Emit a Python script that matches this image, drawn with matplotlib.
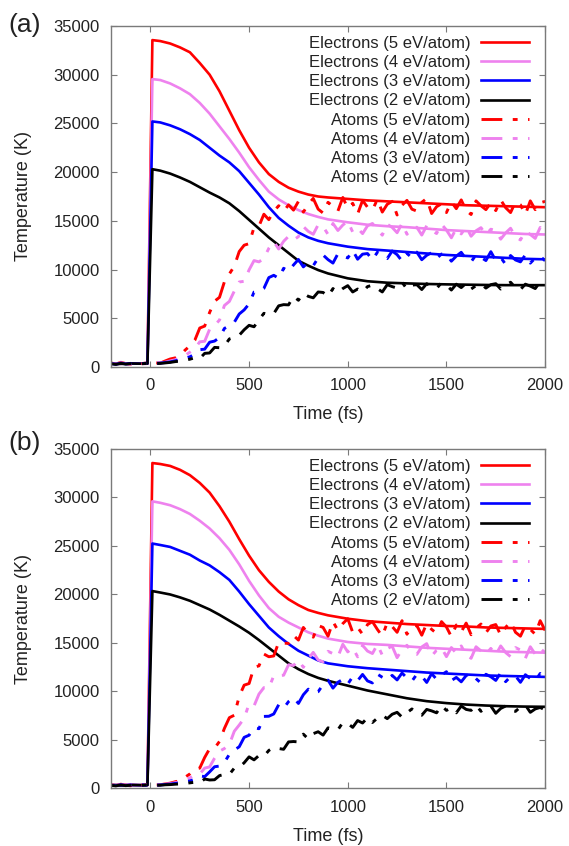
import numpy as np
import matplotlib
matplotlib.use("Agg")
import matplotlib.pyplot as plt

plt.rcParams['font.family'] = ['Liberation Sans', 'DejaVu Sans']
plt.rcParams['lines.scale_dashes'] = False

# ---------------- data ----------------
labels_e = ["Electrons (5 eV/atom)", "Electrons (4 eV/atom)",
            "Electrons (3 eV/atom)", "Electrons (2 eV/atom)"]
labels_a = ["Atoms (5 eV/atom)", "Atoms (4 eV/atom)",
            "Atoms (3 eV/atom)", "Atoms (2 eV/atom)"]
colors = ["#ff0000", "#ee82ee", "#0000ff", "#000000"]

# electron temperature sample times (fs)
t_e = [-200, -150, -100, -50, -15, 10, 50, 100, 150, 200, 250, 300, 350, 400, 450,
       500, 550, 600, 650, 700, 750, 800, 850, 900, 1000, 1100, 1200, 1300, 1400,
       1500, 1600, 1700, 1800, 1900, 2000]

# panel (a) electrons
ea_5 = [350, 330, 360, 340, 350, 33550, 33450, 33200, 32800, 32300, 31200, 30000, 28300, 26300, 24300,
        22500, 21000, 19800, 19000, 18400, 18000, 17700, 17500, 17400, 17250, 17100, 17000, 16900, 16800,
        16700, 16600, 16550, 16500, 16450, 16400]
ea_4 = [350, 330, 360, 340, 350, 29550, 29450, 29100, 28600, 28000, 27100, 26000, 24700, 23400, 22000,
        20500, 19200, 18000, 17200, 16600, 16100, 15700, 15400, 15150, 14850, 14600, 14450, 14350, 14200,
        14050, 13950, 13850, 13750, 13650, 13600]
ea_3 = [350, 330, 360, 340, 350, 25200, 25100, 24800, 24400, 23900, 23300, 22500, 21700, 21000, 20100,
        18900, 17700, 16400, 15300, 14500, 13800, 13300, 12950, 12700, 12350, 12100, 11950, 11800, 11650,
        11500, 11400, 11300, 11200, 11100, 11050]
ea_2 = [350, 330, 360, 340, 350, 20300, 20150, 19850, 19450, 19000, 18450, 17900, 17400, 16800, 16000,
        15100, 14200, 13300, 12500, 11700, 10900, 10400, 9950, 9600, 9100, 8800, 8650, 8580, 8520,
        8480, 8450, 8420, 8400, 8400, 8400]

# panel (b) electrons
eb_5 = [350, 330, 360, 340, 350, 33550, 33450, 33250, 32850, 32300, 31500, 30500, 29100, 27500, 25700,
        24000, 22500, 21300, 20300, 19500, 18900, 18400, 18100, 17850, 17500, 17250, 17100, 16950, 16850,
        16750, 16700, 16600, 16550, 16500, 16450]
eb_4 = [350, 330, 360, 340, 350, 29600, 29450, 29200, 28800, 28300, 27600, 26800, 25800, 24600, 23100,
        21400, 19900, 18600, 17700, 17100, 16600, 16100, 15750, 15450, 15100, 14900, 14800, 14650, 14500,
        14400, 14300, 14200, 14100, 14050, 14000]
eb_3 = [350, 330, 360, 340, 350, 25250, 25100, 24900, 24500, 24100, 23500, 23000, 22300, 21500, 20300,
        19000, 17800, 16600, 15700, 14900, 14200, 13700, 13200, 12900, 12600, 12400, 12250, 12100, 11950,
        11850, 11750, 11650, 11600, 11550, 11500]
eb_2 = [350, 330, 360, 340, 350, 20350, 20200, 20000, 19700, 19350, 18900, 18450, 17900, 17300, 16700,
        16050, 15300, 14500, 13700, 12900, 12300, 11800, 11400, 11100, 10600, 10100, 9700, 9300, 9000,
        8800, 8650, 8550, 8480, 8440, 8420]

# atom temperature sample times (fs): every 25 fs from -200 to 2000
t_a = np.arange(-200, 2001, 25)

aa_5 = [420, 300, 480, 350, 280, 450, 330, 400,
        330, 420, 400, 620, 820, 930, 1180, 1720, 2170, 2750,
        4000, 4200, 5600, 6750, 7150, 8750, 9550, 10350, 11850, 12500,
        12660, 14320, 14460, 15680, 15120, 15980, 16550, 15980, 16640, 16100,
        17000, 15900, 16700, 17300, 16200, 15800, 16900, 16500, 16000, 17400,
        16300, 16800, 15700, 17100, 16400, 16100, 17200, 15900, 16700, 17000,
        15600, 16600, 17100, 16200, 16000, 16900, 17300, 15750, 16450, 16750,
        15850, 16950, 16250, 17150, 16050, 15650, 17050, 16550, 16150, 16850,
        16050, 17150, 16350, 15850, 16950, 16650, 15650, 17050, 16150, 16850,
        17000]
aa_4 = [380, 310, 430, 340, 290, 410, 360, 330,
        360, 380, 440, 490, 620, 740, 970, 1180, 1520, 1880,
        2585, 2640, 3870, 4255, 4820, 6315, 6730, 7790, 8725, 8795,
        9970, 10920, 10790, 11150, 12180, 12860, 12110, 12900, 13410, 13030,
        13380, 14410, 13920, 13620, 14600, 14410, 13610, 14730, 14010, 14570,
        14970, 13850, 14250, 13690, 14490, 14730, 14090, 13530, 14650, 14330,
        13780, 14740, 13620, 14260, 14340, 13540, 14500, 14020, 13700, 14660,
        14060, 13260, 14220, 13660, 14380, 13420, 13980, 14300, 13580, 14140,
        14000, 13120, 13760, 14240, 13360, 13040, 13920, 13600, 13200, 14320,
        13500]
aa_3 = [350, 280, 400, 310, 370, 290, 340, 380,
        330, 370, 400, 460, 520, 630, 740, 890, 1050, 1320,
        1775, 1830, 2545, 2660, 3020, 3960, 4235, 4595, 5440, 5860,
        6480, 7685, 7745, 8070, 9175, 9410, 9110, 10130, 9835, 10470,
        11035, 10275, 10750, 10395, 11195, 11490, 11020, 10665, 11625, 11415,
        11190, 11970, 11060, 11580, 11645, 10995, 11775, 11385, 11125, 11905,
        11530, 10880, 11660, 11205, 11790, 11010, 11465, 11725, 11140, 11595,
        11575, 10860, 11380, 11770, 11055, 10795, 11510, 11250, 10925, 11835,
        10920, 11245, 10530, 11440, 10985, 10790, 11505, 10660, 11180, 11375,
        10900]
aa_2 = [330, 270, 370, 300, 350, 280, 320, 360,
        320, 350, 370, 420, 470, 550, 600, 700, 800, 950,
        870, 1400, 1440, 2010, 1980, 2160, 2880, 3030, 3260, 3820,
        4275, 4130, 4840, 5510, 5365, 5485, 6280, 6400, 6375, 7255,
        6850, 7550, 7250, 7100, 7700, 7650, 7250, 8050, 7650, 8050,
        8350, 7700, 8000, 7700, 8250, 8400, 8050, 7700, 8450, 8250,
        8100, 8700, 8000, 8400, 8450, 7950, 8550, 8250, 8050, 8650,
        8400, 7900, 8500, 8150, 8600, 8000, 8350, 8550, 8100, 8450,
        8550, 8000, 8400, 8700, 8150, 7950, 8500, 8300, 8050, 8750,
        8400]

ab_5 = [380, 300, 440, 330, 280, 420, 340, 380,
        300, 360, 380, 470, 550, 690, 800, 1150, 1500, 2000,
        2100, 3200, 4100, 4150, 4850, 6200, 7300, 7550, 9500, 10650,
        10820, 12500, 12640, 13860, 13580, 13660, 15080, 14980, 14960, 15770,
        15300, 16600, 15950, 15600, 16800, 16600, 15700, 17200, 16300, 17000,
        17500, 16100, 16600, 15900, 16900, 17200, 16400, 15700, 17100, 16700,
        16100, 17300, 15900, 16700, 16800, 15800, 17000, 16400, 16000, 17200,
        16650, 15650, 16850, 16150, 17050, 15850, 16550, 16950, 16050, 16750,
        16900, 15800, 16600, 17200, 16100, 15700, 16800, 16400, 15900, 17300,
        16300]
ab_4 = [360, 310, 400, 340, 420, 330, 380, 340,
        320, 360, 380, 450, 500, 600, 700, 880, 1100, 1400,
        1500, 2100, 2220, 3120, 3840, 4120, 4540, 5900, 6540, 7240,
        8720, 8510, 9730, 10395, 10345, 11625, 11635, 11675, 12755, 12680,
        13225, 12490, 13370, 14030, 13245, 13055, 14140, 13900, 13575, 14865,
        14080, 14505, 13570, 14760, 14165, 13910, 14845, 13740, 14420, 14675,
        13485, 14335, 14760, 13995, 13825, 14590, 14930, 13655, 14250, 14505,
        13590, 14525, 13930, 14695, 13760, 13420, 14610, 14185, 13845, 14440,
        13760, 14695, 14015, 13590, 14525, 14270, 13420, 14610, 13845, 14440,
        14000]
ab_3 = [340, 290, 380, 300, 360, 310, 390, 330,
        300, 340, 360, 410, 450, 520, 570, 680, 780, 950,
        1300, 1220, 1710, 2240, 2310, 2690, 3520, 3950, 4300, 5270,
        5490, 6265, 6160, 7430, 7445, 7680, 8635, 8270, 8960, 9375,
        8765, 9665, 10240, 9855, 9975, 10710, 11170, 10345, 10950, 11245,
        10760, 11525, 11120, 11755, 11090, 10880, 11790, 11465, 11205, 11660,
        11190, 11905, 11385, 11060, 11775, 11580, 10930, 11840, 11255, 11710,
        12035, 11125, 11450, 10995, 11645, 11840, 11320, 10865, 11775, 11515,
        11140, 11920, 11010, 11530, 11595, 10945, 11725, 11335, 11075, 11855,
        11400]
ab_2 = [320, 270, 360, 290, 340, 270, 310, 350,
        300, 330, 340, 380, 400, 440, 470, 530, 580, 640,
        600, 975, 875, 900, 1325, 1450, 1450, 2100, 2175, 2650,
        3260, 2950, 3400, 3320, 3920, 4240, 4120, 4040, 4800, 4840,
        4800, 5600, 5100, 5650, 5850, 5500, 6250, 6100, 6050, 6800,
        6700, 6300, 7000, 6750, 7300, 6800, 7250, 7550, 7200, 7650,
        7850, 7350, 7800, 8200, 7700, 7550, 8150, 8000, 7800, 8550,
        8050, 8300, 7800, 8500, 8150, 8050, 8600, 7950, 8350, 8500,
        7750, 8250, 8500, 8050, 7950, 8400, 8600, 7850, 8200, 8350,
        8100]

x_ticks = [0, 500, 1000, 1500, 2000]
y_ticks = [0, 5000, 10000, 15000, 20000, 25000, 30000, 35000]

panels = [
    ("(a)", [ea_5, ea_4, ea_3, ea_2], [aa_5, aa_4, aa_3, aa_2]),
    ("(b)", [eb_5, eb_4, eb_3, eb_2], [ab_5, ab_4, ab_3, ab_2]),
]

# ---------------- figure ----------------
fig = plt.figure(figsize=(5.69, 8.46), dpi=100)
rects = [[0.195, 0.5662, 0.763, 0.4031], [0.195, 0.0680, 0.763, 0.4013]]
label_y = [0.970, 0.476]
frame_col = "#7a7a7a"
text_col = "#222222"

for (tag, elec, atoms), rect, ly in zip(panels, rects, label_y):
    ax = fig.add_axes(rect)
    for ys, c, lab in zip(elec, colors, labels_e):
        ax.plot(t_e, ys, color=c, lw=1.9, label=lab, solid_joinstyle='round')
    for ys, c, lab in zip(atoms, colors, labels_a):
        ax.plot(t_a, ys, color=c, lw=2.1, label=lab, dashes=(15, 7.5, 3.5, 7.5))
    ax.set_xlim(-200, 2000)
    ax.set_ylim(0, 35000)
    ax.set_xticks(x_ticks)
    ax.set_yticks(y_ticks)
    ax.tick_params(direction='in', length=4.5, width=0.8, top=True, right=True,
                   labelsize=12, colors=frame_col, labelcolor=text_col)
    ax.tick_params(axis='x', pad=8)
    ax.tick_params(axis='y', pad=8)
    for sp in ax.spines.values():
        sp.set_color(frame_col)
        sp.set_linewidth(1.0)
    ax.set_xlabel("Time (fs)", fontsize=13, color=text_col)
    ax.set_ylabel("Temperature (K)", fontsize=13, color=text_col)
    ax.yaxis.set_label_coords(-0.182, 0.5)
    ax.xaxis.set_label_coords(0.5, -0.115)
    leg = ax.legend(loc='upper right', bbox_to_anchor=(0.985, 1.0), frameon=False,
                    markerfirst=False, fontsize=12,
                    labelspacing=0.25, handlelength=2.85, handletextpad=0.65,
                    borderaxespad=0.3, borderpad=0.3)
    for txt in leg.get_texts():
        txt.set_color(text_col)
    fig.text(0.044, ly, tag, fontsize=19, ha='center', va='center', color=text_col)

fig.savefig("out.png", dpi=100)
